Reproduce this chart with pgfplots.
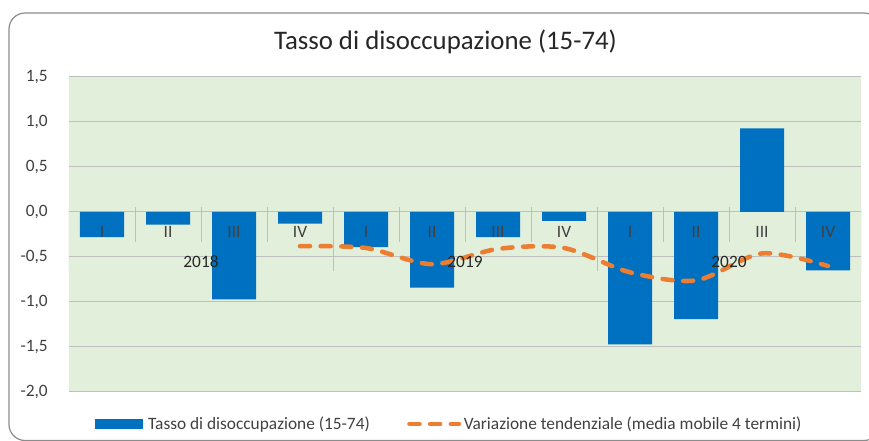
\documentclass[border=0pt]{standalone}
\usepackage{pgfplots}
\pgfplotsset{compat=1.18}
\usepackage{fontspec}
\setmainfont{Carlito}
\definecolor{barblue}{HTML}{0070C0}
\definecolor{lineorange}{HTML}{ED7D31}
\definecolor{plotbg}{HTML}{E2EFDA}
\definecolor{gridgray}{HTML}{BFBFBF}
\definecolor{txt}{HTML}{404040}
\definecolor{titlec}{HTML}{262626}
\definecolor{framegray}{HTML}{8C8C8C}
\newcommand{\smallf}{\fontsize{13}{15}\selectfont}
\begin{document}
\begin{tikzpicture}[x=0.75pt,y=0.75pt]
\useasboundingbox (0,0) rectangle (869,441);
\draw[framegray, line width=0.9pt, rounded corners=12] (9,0.5) rectangle (880,428);
\node[anchor=base, font=\fontsize{20.1}{24}\selectfont, text=titlec] at (445.5,391) {Tasso di disoccupazione (15-74)};
\begin{axis}[
  at={(51.75pt,36.75pt)}, anchor=south west,
  scale only axis, width=594pt, height=236.25pt,
  xmin=-0.5, xmax=11.5, ymin=-2, ymax=1.5,
  ytick={-2,-1.5,-1,-0.5,0,0.5,1,1.5},
  xtick=\empty,
  axis line style={draw=none},
  major tick length=0pt,
  ymajorgrids, grid style={gridgray, line width=0.75pt},
  axis background/.style={fill=plotbg},
  yticklabel style={font=\smallf, text=txt, inner sep=0pt, xshift=-15.75pt,
    /pgf/number format/use comma, /pgf/number format/fixed,
    /pgf/number format/fixed zerofill, /pgf/number format/precision=1,
    /pgf/number format/assume math mode=true},
  legend style={at={(0.4804,0)}, anchor=center, yshift=-24pt, draw=none, fill=none,
    font=\smallf, text=txt, legend columns=2,
    /tikz/every even column/.append style={column sep=26pt}},
  legend cell align=left,
]
\addplot[ybar, bar width=33pt, fill=barblue, draw=none,
  legend image code/.code={\fill[barblue] (0pt,-3.5pt) rectangle (36pt,3.5pt); \path (0pt,0pt) -- (38pt,0pt);}]
  coordinates {(0,-0.28) (1,-0.14) (2,-0.97) (3,-0.13) (4,-0.39) (5,-0.84)
               (6,-0.28) (7,-0.10) (8,-1.47) (9,-1.19) (10,0.93) (11,-0.65)};
\addlegendentry{Tasso di disoccupazione (15-74)}
\addplot[smooth, tension=0.5, lineorange, line width=3.4pt, line cap=round, dash pattern=on 7.5pt off 8pt,
  legend image code/.code={\draw[lineorange, line width=3.4pt, line cap=round, dash pattern=on 7.5pt off 8pt] (2pt,0pt) -- (39pt,0pt);}]
  coordinates {(3,-0.38) (4,-0.40) (5,-0.58) (6,-0.41) (7,-0.40) (8,-0.67) (9,-0.76) (10,-0.46) (11,-0.60)};
\addlegendentry{Variazione tendenziale (media mobile 4 termini)}
% category separators
\draw[gridgray, line width=0.75pt] (axis cs:-0.5,0.055) -- (axis cs:-0.5,-0.66);
\draw[gridgray, line width=0.75pt] (axis cs:3.5,0.055) -- (axis cs:3.5,-0.66);
\draw[gridgray, line width=0.75pt] (axis cs:7.5,0.055) -- (axis cs:7.5,-0.66);
\draw[gridgray, line width=0.75pt] (axis cs:11.5,0.055) -- (axis cs:11.5,-0.66);
\draw[gridgray, line width=0.75pt] (axis cs:0.5,0.055) -- (axis cs:0.5,-0.33);
\draw[gridgray, line width=0.75pt] (axis cs:1.5,0.055) -- (axis cs:1.5,-0.33);
\draw[gridgray, line width=0.75pt] (axis cs:2.5,0.055) -- (axis cs:2.5,-0.33);
\draw[gridgray, line width=0.75pt] (axis cs:4.5,0.055) -- (axis cs:4.5,-0.33);
\draw[gridgray, line width=0.75pt] (axis cs:5.5,0.055) -- (axis cs:5.5,-0.33);
\draw[gridgray, line width=0.75pt] (axis cs:6.5,0.055) -- (axis cs:6.5,-0.33);
\draw[gridgray, line width=0.75pt] (axis cs:8.5,0.055) -- (axis cs:8.5,-0.33);
\draw[gridgray, line width=0.75pt] (axis cs:9.5,0.055) -- (axis cs:9.5,-0.33);
\draw[gridgray, line width=0.75pt] (axis cs:10.5,0.055) -- (axis cs:10.5,-0.33);
% category labels
\node[font=\smallf, text=txt] at (axis cs:0,-0.22) {I};
\node[font=\smallf, text=txt] at (axis cs:1,-0.22) {II};
\node[font=\smallf, text=txt] at (axis cs:2,-0.22) {III};
\node[font=\smallf, text=txt] at (axis cs:3,-0.22) {IV};
\node[font=\smallf, text=txt] at (axis cs:4,-0.22) {I};
\node[font=\smallf, text=txt] at (axis cs:5,-0.22) {II};
\node[font=\smallf, text=txt] at (axis cs:6,-0.22) {III};
\node[font=\smallf, text=txt] at (axis cs:7,-0.22) {IV};
\node[font=\smallf, text=txt] at (axis cs:8,-0.22) {I};
\node[font=\smallf, text=txt] at (axis cs:9,-0.22) {II};
\node[font=\smallf, text=txt] at (axis cs:10,-0.22) {III};
\node[font=\smallf, text=txt] at (axis cs:11,-0.22) {IV};
\node[font=\smallf, text=titlec] at (axis cs:1.5,-0.55) {2018};
\node[font=\smallf, text=titlec] at (axis cs:5.5,-0.55) {2019};
\node[font=\smallf, text=titlec] at (axis cs:9.5,-0.55) {2020};
\end{axis}
\end{tikzpicture}
\end{document}
